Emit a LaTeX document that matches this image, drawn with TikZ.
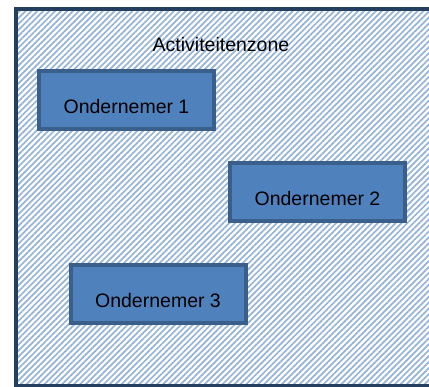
\documentclass[tikz,border=0pt]{standalone}
\usepackage{fontspec}
\setmainfont{Liberation Sans}
\usetikzlibrary{patterns.meta}
\definecolor{zonerand}{HTML}{243F60}
\definecolor{zonearcering}{HTML}{95B3D7}
\definecolor{blokvul}{HTML}{4F81BD}
\definecolor{blokrand}{HTML}{3A5F8B}
\tikzset{
  zone/.style={draw=zonerand, line width=3.5pt,
    pattern={Lines[angle=45,distance=4.2pt,line width=1.7pt]}, pattern color=zonearcering},
  ondernemer/.style={draw=blokrand, fill=blokvul, line width=4pt,
    minimum width=175pt, minimum height=58pt, text height=27pt, text depth=0pt,
    font=\fontsize{19.5}{23}\selectfont},
  zonelabel/.style={font=\fontsize{19.5}{23}\selectfont, inner sep=0pt}
}
\begin{document}
\begin{tikzpicture}[x=1pt,y=-1pt]
			%%%%% START %%%%%
			\useasboundingbox (0,0) rectangle (429,387);
			
			\draw[zone] (16,9) rectangle (434,386);
			\node[zonelabel] (zonenaam) at (221,45) {Activiteitenzone};
			
			\node[ondernemer] (ond1) at (126.5,100) {Ondernemer 1};
			\node[ondernemer] (ond2) at (317.5,192.5) {Ondernemer 2};
			\node[ondernemer] (ond3) at (158,294.5) {Ondernemer 3};
			
			%%%%% END %%%%%
\end{tikzpicture}
\end{document}
